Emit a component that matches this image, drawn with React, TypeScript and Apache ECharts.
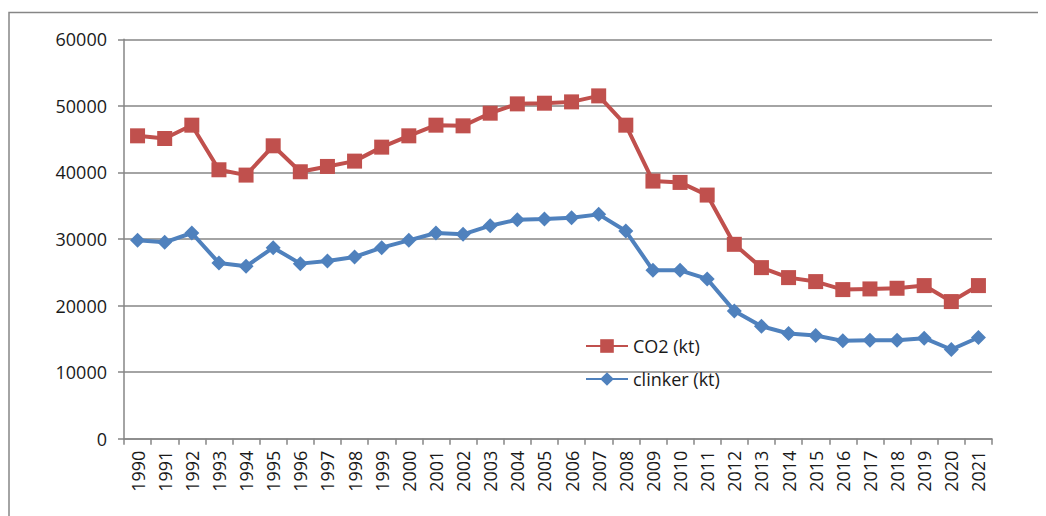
import React, { useEffect, useRef } from "react";
import * as echarts from "echarts";

const years = [
  "1990","1991","1992","1993","1994","1995","1996","1997","1998","1999",
  "2000","2001","2002","2003","2004","2005","2006","2007","2008","2009",
  "2010","2011","2012","2013","2014","2015","2016","2017","2018","2019",
  "2020","2021",
];

const co2 = [
  45500, 45100, 47100, 40400, 39600, 44000, 40100, 40900, 41700, 43800,
  45500, 47100, 47000, 48900, 50300, 50400, 50600, 51500, 47100, 38700,
  38500, 36600, 29200, 25700, 24200, 23600, 22400, 22500, 22600, 23000,
  20600, 23000,
];

const clinker = [
  29800, 29500, 30900, 26400, 25900, 28700, 26300, 26700, 27300, 28700,
  29800, 30900, 30700, 32000, 32900, 33000, 33200, 33700, 31200, 25300,
  25300, 24000, 19200, 16900, 15800, 15500, 14700, 14800, 14800, 15100,
  13400, 15200,
];

const seriesNames = ["CO2 (kt)", "clinker (kt)"];

const FONT = "'Open Sans', 'Liberation Sans', sans-serif";
const GRAY = "#868686";

export default function App() {
  const ref = useRef<HTMLDivElement>(null);
  useEffect(() => {
    if (!ref.current) return;
    const chart = echarts.init(ref.current, null, { renderer: "svg" });
    chart.setOption({
      animation: false,
      backgroundColor: "#ffffff",
      textStyle: { fontFamily: FONT },
      graphic: [
        {
          type: "rect",
          shape: { x: 1, y: 4.5, width: 1200, height: 1000 },
          style: { fill: "none", stroke: GRAY, lineWidth: 1.5 },
          silent: true,
        },
      ],
      grid: { left: 116, right: 54, top: 31.3, bottom: 77.3, containLabel: false },
      legend: {
        orient: "vertical",
        left: 577,
        top: 329,
        padding: 0,
        itemWidth: 42,
        itemHeight: 17,
        itemGap: 15,
        data: seriesNames,
        textStyle: { fontFamily: FONT, fontSize: 18, color: "#1a1a1a" },
      },
      xAxis: {
        type: "category",
        data: years,
        boundaryGap: true,
        axisLine: { show: true, lineStyle: { color: GRAY, width: 1.5 } },
        axisTick: { show: true, length: 6, lineStyle: { color: GRAY, width: 1.5 } },
        axisLabel: {
          rotate: 90,
          interval: 0,
          margin: 12,
          fontFamily: FONT,
          fontSize: 18,
          color: "#1a1a1a",
        },
        splitLine: { show: false },
      },
      yAxis: {
        type: "value",
        min: 0,
        max: 60000,
        interval: 10000,
        axisLine: { show: true, lineStyle: { color: GRAY, width: 1.5 } },
        axisTick: { show: true, length: 6, lineStyle: { color: GRAY, width: 1.5 } },
        axisLabel: {
          margin: 17,
          fontFamily: FONT,
          fontSize: 18,
          color: "#1a1a1a",
          formatter: (v: number) => String(v),
        },
        splitLine: { show: true, lineStyle: { color: GRAY, width: 1.5 } },
      },
      series: [
        {
          name: seriesNames[0],
          type: "line",
          data: co2,
          symbol: "rect",
          symbolSize: 15,
          lineStyle: { color: "#C0504D", width: 4 },
          itemStyle: { color: "#C0504D" },
        },
        {
          name: seriesNames[1],
          type: "line",
          data: clinker,
          symbol: "diamond",
          symbolSize: 15,
          lineStyle: { color: "#4F81BD", width: 4 },
          itemStyle: { color: "#4F81BD" },
        },
      ],
    });
    return () => chart.dispose();
  }, []);
  return <div ref={ref} style={{ width: 1038, height: 508 }} />;
}
